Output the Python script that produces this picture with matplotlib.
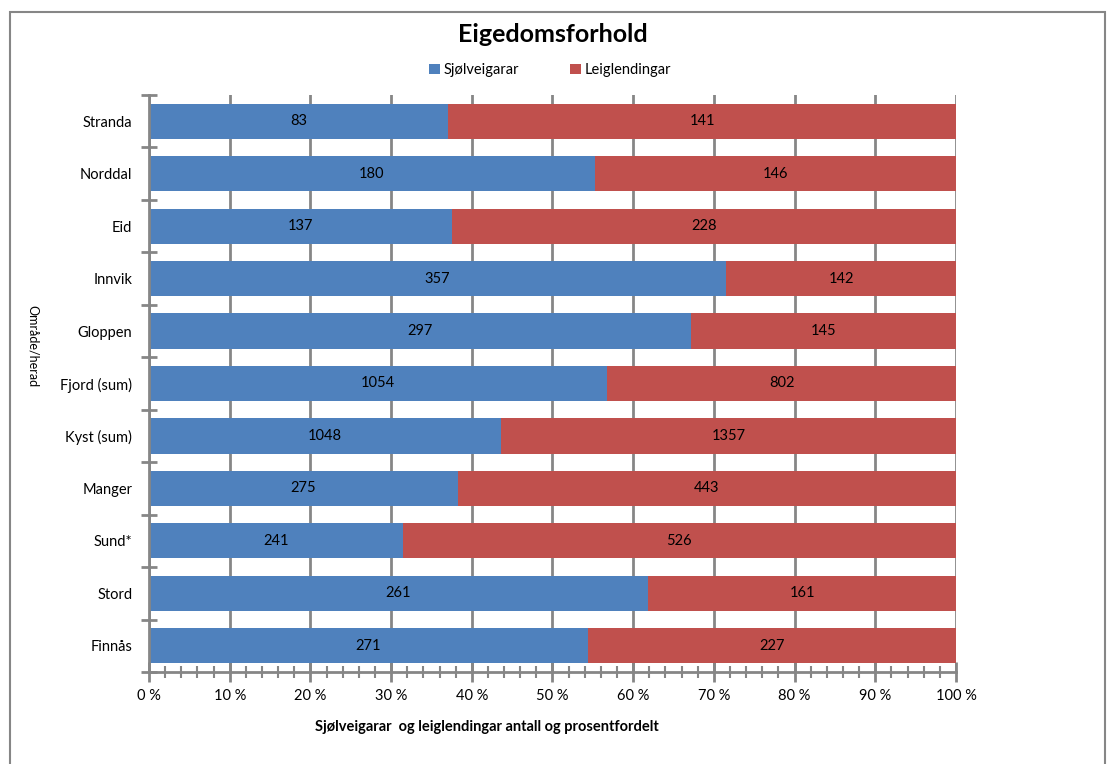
import matplotlib.pyplot as plt
from matplotlib.patches import Rectangle
from matplotlib.ticker import MultipleLocator, FuncFormatter

# data
places = ["Stranda", "Norddal", "Eid", "Innvik", "Gloppen", "Fjord (sum)",
          "Kyst (sum)", "Manger", "Sund*", "Stord", "Finnås"]
sjolveigarar = [83, 180, 137, 357, 297, 1054, 1048, 275, 241, 261, 271]
leiglendingar = [141, 146, 228, 142, 145, 802, 1357, 443, 526, 161, 227]

blue = "#4F81BD"
red = "#C0504D"
grey = "#868686"

plt.rcParams['font.family'] = ['Lato', 'DejaVu Sans']

fig = plt.figure(figsize=(11.12, 7.64), dpi=100)
ax = fig.add_axes([0.134, 0.1204, 0.7257, 0.7553])

own_pct = []
lease_pct = []
for s, l in zip(sjolveigarar, leiglendingar):
    own_pct.append(100 * s / (s + l))
    lease_pct.append(100 * l / (s + l))

ypos = list(range(len(places)))
b1 = ax.barh(ypos, own_pct, height=0.67, color=blue, label="Sjølveigarar", zorder=3)
b2 = ax.barh(ypos, lease_pct, left=own_pct, height=0.67, color=red,
             label="Leiglendingar", zorder=3)
ax.bar_label(b1, labels=[str(v) for v in sjolveigarar], label_type="center",
             fontsize=10.5, color="black")
ax.bar_label(b2, labels=[str(v) for v in leiglendingar], label_type="center",
             fontsize=10.5, color="black")

ax.set_xlim(0, 100)
ax.set_ylim(len(places) - 0.5, -0.5)
ax.xaxis.set_major_locator(MultipleLocator(10))
ax.xaxis.set_minor_locator(MultipleLocator(2))
ax.xaxis.set_major_formatter(FuncFormatter(lambda v, p: f"{int(v)} %"))
ax.set_yticks(ypos)
ax.set_yticklabels(places)
ax.set_yticks([i - 0.5 for i in range(len(places) + 1)], minor=True)

ax.tick_params(axis="y", which="major", length=0, labelsize=10.5, pad=12)
ax.tick_params(axis="y", which="minor", direction="inout", length=12,
               width=2, color=grey)
ax.tick_params(axis="x", which="major", direction="inout", length=14,
               width=2, color=grey, labelsize=10.5, pad=5)
ax.tick_params(axis="x", which="minor", direction="inout", length=8,
               width=1.5, color=grey)

for side in ["top", "right"]:
    ax.spines[side].set_visible(False)
for side in ["left", "bottom"]:
    ax.spines[side].set_color(grey)
    ax.spines[side].set_linewidth(2)
    ax.spines[side].set_zorder(4)

ax.grid(axis="x", which="major", color=grey, linewidth=2, zorder=0)
ax.set_axisbelow(True)

fig.text(0.497, 0.955, "Eigedomsforhold", ha="center", va="center",
         fontsize=18, fontweight="bold")
fig.legend(handles=[b1, b2], loc="center", bbox_to_anchor=(0.495, 0.908),
           ncol=2, frameon=False, fontsize=10.5, handlelength=0.7,
           handleheight=0.7, columnspacing=3.5, handletextpad=0.3)
fig.text(0.438, 0.048, "Sjølveigarar  og leiglendingar antall og prosentfordelt",
         ha="center", va="center", fontsize=10.5, fontweight="bold")
fig.text(0.030, 0.547, "Område/herad", ha="center", va="center",
         fontsize=9, rotation=270)

fig.patches.append(Rectangle((0.009, -0.1), 0.985, 1.084, transform=fig.transFigure,
                             fill=False, edgecolor=grey, linewidth=1.5))

fig.savefig("out.png", dpi=100)
